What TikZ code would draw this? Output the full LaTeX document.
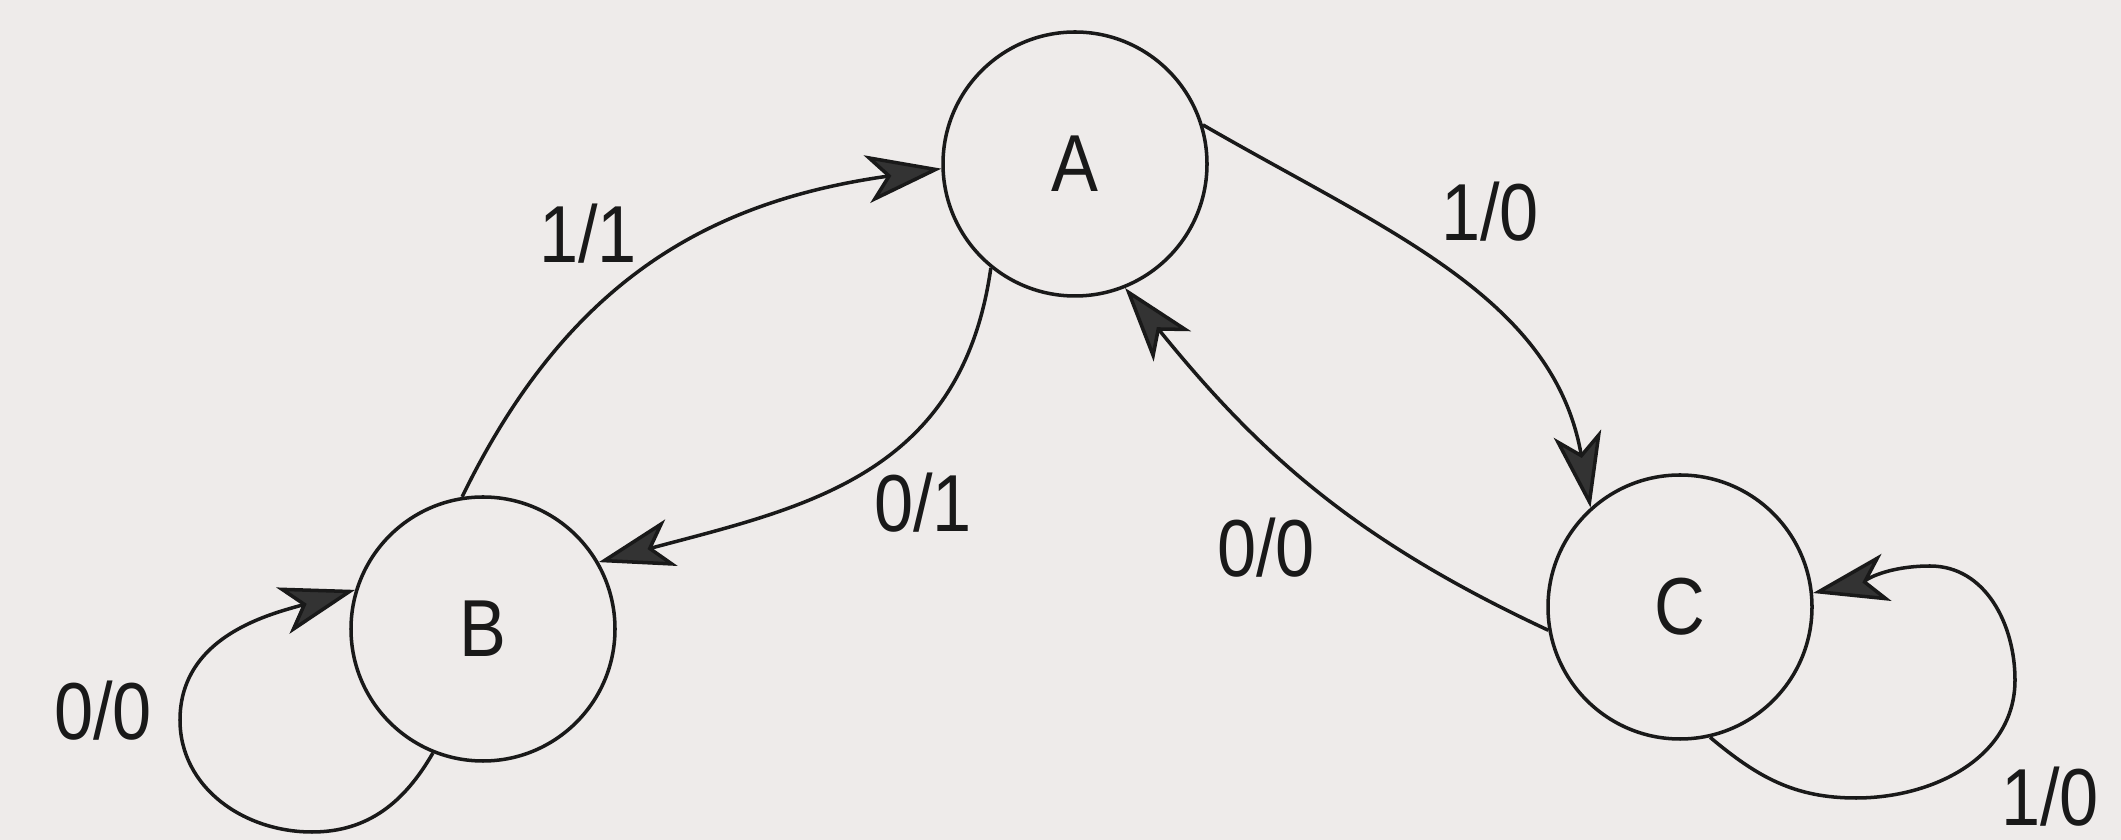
\documentclass[tikz,border=0pt]{standalone}
\usepackage{fontspec}
\setmainfont{Liberation Sans}[FakeStretch=0.87]
\usetikzlibrary{arrows.meta}
\definecolor{paper}{RGB}{238,235,234}
\definecolor{ink}{RGB}{25,25,25}
\tikzset{
  state/.style={circle,draw=ink,line width=1pt,minimum size=2.64cm,inner sep=0pt,font=\fontsize{23}{26}\selectfont,text=ink},
  lbl/.style={font=\fontsize{23}{26}\selectfont,text=ink,inner sep=0pt},
  edge/.style={draw=ink,line width=1pt,-{Stealth[length=7.5mm,width=4.8mm,inset=2mm,fill=ink!75!gray]}},
}
\begin{document}
\begin{tikzpicture}
\fill[paper] (0,0) rectangle (21.21,8.40);
\useasboundingbox (0,0) rectangle (21.21,8.40);

\node[state] (A) at (10.75,6.76) {A};
\node[state] (B) at (4.83,2.11) {B};
\node[state] (C) at (16.80,2.33) {C};

\node[lbl] (l11) at (5.88,6.06) {1/1};
\node[lbl] (l01) at (9.23,3.37) {0/1};
\node[lbl] (l10a) at (14.90,6.28) {1/0};
\node[lbl] (l00m) at (12.66,2.92) {0/0};
\node[lbl] (l00b) at (1.03,1.29) {0/0};
\node[lbl] (l10c) at (20.50,0.43) {1/0};

\coordinate (bb) at (3.12,0.08);
\coordinate (bl) at (1.80,1.20);
\coordinate (cb) at (18.56,0.42);
\coordinate (cr) at (20.15,1.60);
\coordinate (ct) at (19.30,2.74);

\path[edge] (B.99) to[out=64,in=188,looseness=1.05] (A.182);
\path[edge] (A.231) to[out=262,in=15,looseness=1.1] (B.30);
\path[edge] (A.17) to[out=-30,in=100] (C.132);
\path[edge] (C.190) to[out=155,in=309] (A.292);
\path[edge] (B.248) to[out=240,in=0] (bb) to[out=180,in=270] (bl) to[out=90,in=196] (B.163);
\path[edge] (C.283) to[out=-40,in=180] (cb) to[out=0,in=270] (cr) to[out=90,in=0] (ct) to[out=180,in=12] (C.6);
\end{tikzpicture}
\end{document}
